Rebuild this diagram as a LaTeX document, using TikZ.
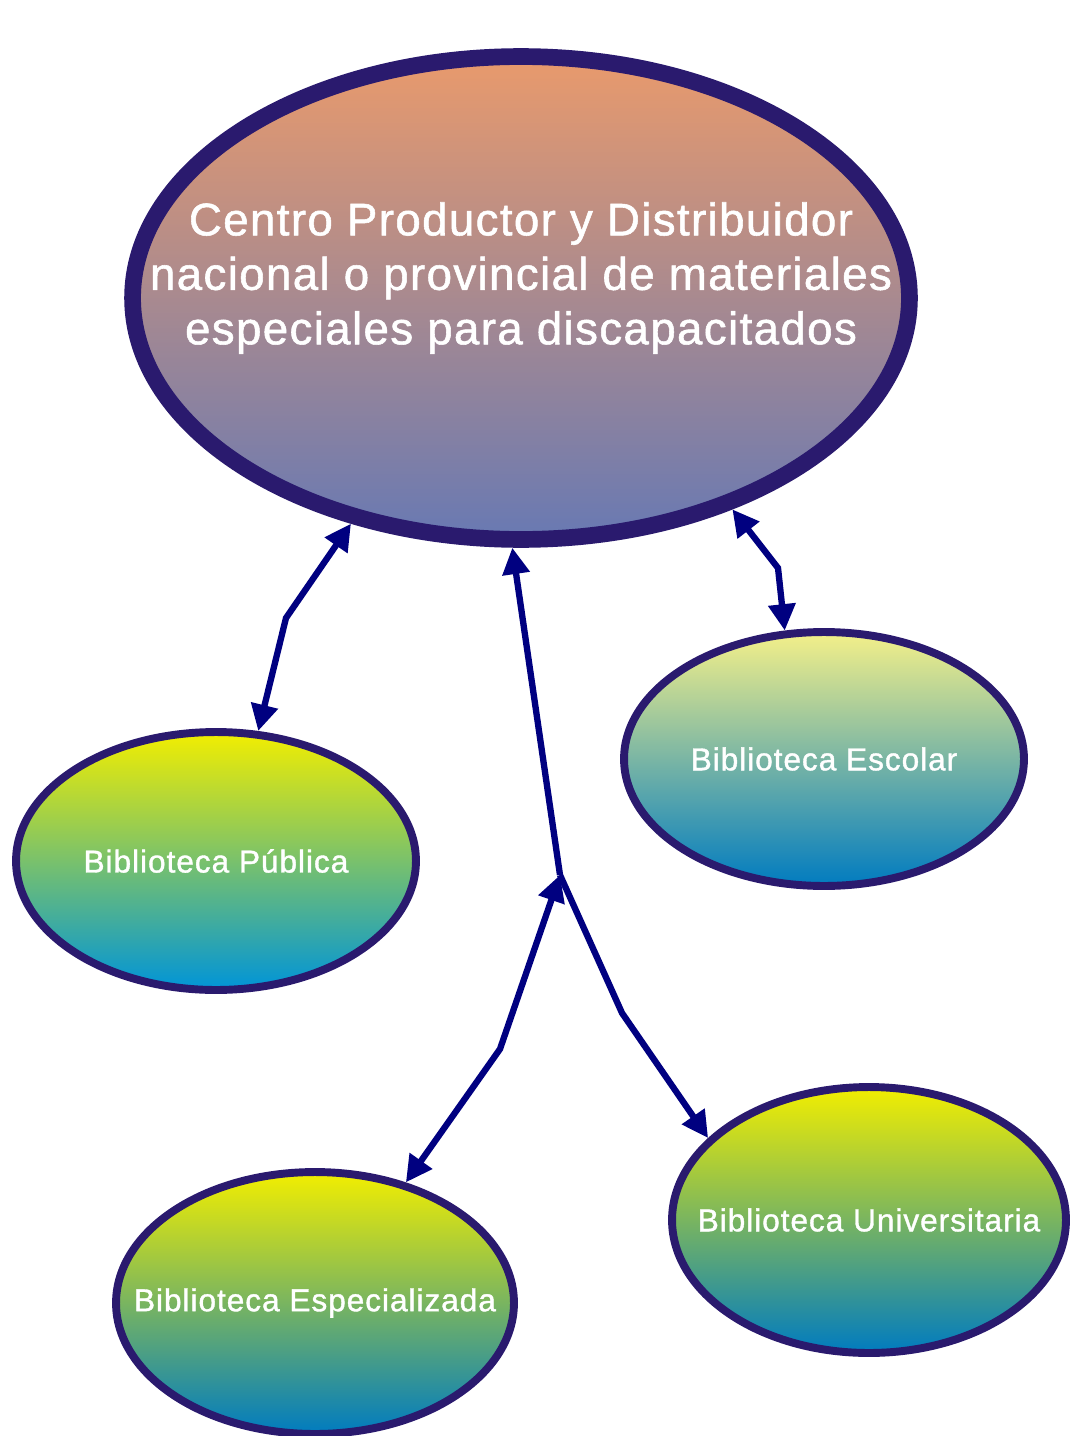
\documentclass[tikz,border=0pt]{standalone}
\usepackage{fontspec}
\setmainfont{Liberation Sans}[FakeBold=1.2, LetterSpace=3]
\usetikzlibrary{arrows.meta,shapes.geometric,positioning}

\definecolor{borde}{HTML}{2A1A6E}
\definecolor{flecha}{HTML}{000080}
\definecolor{naranja}{HTML}{E99A6C}
\definecolor{malva}{HTML}{AD8B89}
\definecolor{azulgris}{HTML}{6879B3}
\definecolor{amarillo}{HTML}{F2EE00}
\definecolor{crema}{HTML}{F4F089}
\definecolor{verde}{HTML}{84C47E}
\definecolor{celeste}{HTML}{0094D8}
\definecolor{azul}{HTML}{007BC0}

\tikzset{
  centro/.style={ellipse, draw=borde, line width=9.5pt, inner sep=0pt,
    minimum width=15.54cm, minimum height=9.66cm,
    top color=naranja, middle color=malva, bottom color=azulgris},
  biblio/.style={ellipse, draw=borde, line width=4.5pt, inner sep=0pt,
    minimum width=8cm, minimum height=5.16cm,
    top color=amarillo, middle color=verde, bottom color=azul},
  rotulo/.style={text=white, font=\fontsize{18}{22}\selectfont},
  enlace/.style={draw=flecha, line width=3.6pt},
  ida/.style={-{Triangle[length=15pt,width=15pt]}},
  doble/.style={{Triangle[length=15pt,width=15pt]}-{Triangle[length=15pt,width=15pt]}}
}

\begin{document}
\begin{tikzpicture}[x=0.02cm, y=-0.02cm]
  \useasboundingbox (0,0) rectangle (1071,1436);

  \node[centro, label={[rotulo, align=center, yshift=0.4cm,
      font=\fontsize{26}{31}\selectfont]center:{Centro Productor y Distribuidor\\
      nacional o provincial de materiales\\especiales para discapacitados}}]
    (centro) at (521,298) {};

  \node[biblio, bottom color=celeste, label={[rotulo]center:Biblioteca Pública}]
    (publica) at (216,861) {};
  \node[biblio, top color=crema, minimum height=5.08cm,
      label={[rotulo]center:Biblioteca Escolar}]
    (escolar) at (824,759) {};
  \node[biblio, minimum width=7.96cm, minimum height=5.24cm,
      label={[rotulo]center:Biblioteca Especializada}]
    (especializada) at (315,1303) {};
  \node[biblio, minimum width=7.88cm, minimum height=5.32cm,
      label={[rotulo]center:Biblioteca Universitaria}]
    (universitaria) at (869,1220) {};

  \coordinate (codoP) at (286,618);
  \coordinate (codoE) at (778,568);
  \coordinate (nudo) at (560,875);
  \coordinate (codoS) at (500,1049);
  \coordinate (codoU) at (622,1013);

  \draw[enlace,doble] (publica.72) -- (codoP) -- (centro.-127);
  \draw[enlace,doble] (centro.-45) -- (codoE) -- (escolar.107);
  \draw[enlace,ida] (nudo) -- (centro.-92);
  \draw[enlace,ida] (nudo) -- (codoU) -- (universitaria.153);
  \draw[enlace,doble] (especializada.53) -- (codoS) -- (nudo);
\end{tikzpicture}
\end{document}
